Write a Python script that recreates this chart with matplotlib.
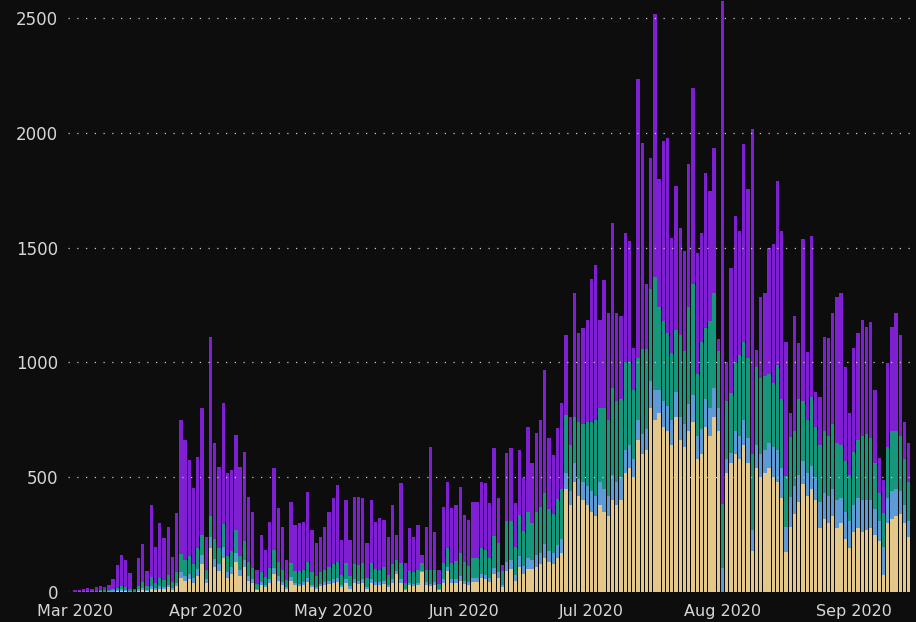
import numpy as np
import pandas as pd
import matplotlib
matplotlib.use("Agg")
import matplotlib.pyplot as plt
import matplotlib.dates as mdates

# Daily totals, 1 Mar 2020 onwards
total = [
    8, 10, 12, 18, 15, 20, 25, 22, 30, 55,
    117, 160, 139, 83, 15, 150, 210, 90, 378, 196,
    300, 235, 283, 152, 343, 748, 661, 574, 452, 587,
    800, 239, 1110, 648, 543, 822, 517, 530, 683, 543,
    609, 413, 348, 96, 248, 183, 304, 539, 365, 283,
    139, 391, 291, 300, 304, 435, 270, 213, 239, 283,
    348, 409, 465, 226, 400, 226, 413, 413, 409, 213,
    400, 304, 322, 313, 239, 378, 248, 474, 126, 278,
    239, 291, 161, 283, 630, 261, 96, 370, 478, 365,
    378, 457, 335, 313, 391, 391, 478, 474, 387, 626,
    409, 117, 604, 626, 387, 617, 496, 717, 561, 691,
    748, 965, 670, 596, 713, 822, 1117, 761, 1300, 1126,
    1148, 1183, 1365, 1422, 1183, 1357, 1213, 1609, 1213, 1204,
    1565, 1530, 1061, 2235, 1957, 1343, 1891, 2517, 1800, 1965,
    1978, 1543, 1770, 1587, 1487, 1865, 2196, 1478, 1565, 1826,
    1748, 1935, 1100, 2575, 1000, 1413, 1639, 1574, 1952, 1757,
    2017, 1052, 1283, 1300, 1500, 1517, 1791, 1574, 1087, 778,
    1204, 1083, 1539, 1043, 1552, 870, 848, 1109, 1104, 1213,
    1283, 1300, 978, 778, 1061, 1126, 1183, 1152, 1174, 878,
    583, 487, 996, 1152, 1213, 1117, 739, 648,
]

# bottom layer
tan = [
    0, 0, 0, 0, 0, 0, 0, 0, 0, 2,
    3, 5, 4, 2, 0, 6, 10, 5, 15, 8,
    15, 12, 20, 10, 25, 60, 50, 55, 40, 70,
    120, 40, 190, 110, 90, 150, 60, 80, 130, 70,
    110, 50, 40, 10, 30, 20, 40, 80, 50, 30,
    15, 50, 30, 25, 30, 45, 20, 15, 25, 30,
    35, 40, 45, 20, 40, 15, 40, 35, 40, 15,
    40, 30, 30, 35, 20, 40, 80, 40, 10, 30,
    25, 30, 85, 30, 25, 30, 10, 40, 90, 40,
    40, 50, 35, 30, 45, 45, 60, 55, 45, 80,
    60, 20, 90, 100, 50, 110, 80, 100, 100, 110,
    120, 150, 130, 120, 150, 170, 450, 380, 480, 420,
    400, 380, 350, 330, 380, 350, 330, 400, 380, 400,
    520, 540, 500, 660, 600, 620, 800, 750, 780, 720,
    700, 640, 760, 660, 630, 700, 740, 580, 600, 720,
    680, 760, 700, 0, 520, 560, 600, 580, 640, 560,
    180, 540, 500, 520, 540, 500, 480, 410, 175, 285,
    340, 390, 470, 420, 450, 400, 280, 320, 300, 330,
    280, 300, 230, 190, 260, 280, 260, 270, 280, 250,
    220, 75, 300, 320, 330, 340, 300, 240,
]

blue = [
    0, 0, 0, 2, 0, 2, 3, 2, 3, 5,
    4, 6, 5, 3, 2, 6, 8, 5, 12, 8,
    10, 10, 12, 8, 15, 25, 20, 25, 20, 30,
    40, 15, 50, 35, 30, 45, 25, 30, 40, 25,
    30, 20, 15, 5, 15, 10, 15, 25, 20, 15,
    8, 15, 10, 10, 12, 15, 10, 8, 10, 12,
    12, 15, 15, 10, 15, 10, 15, 12, 15, 8,
    15, 12, 12, 12, 10, 15, 10, 15, 5, 10,
    10, 10, 8, 12, 10, 12, 5, 15, 20, 15,
    15, 20, 15, 12, 15, 15, 20, 20, 15, 25,
    25, 10, 40, 40, 25, 45, 35, 50, 40, 50,
    50, 60, 50, 50, 55, 60, 70, 60, 80, 70,
    80, 80, 90, 90, 100, 100, 90, 110, 100, 100,
    100, 100, 80, 90, 90, 90, 120, 130, 100, 110,
    110, 110, 110, 100, 100, 120, 120, 100, 110, 120,
    120, 130, 100, 105, 60, 45, 100, 100, 110, 110,
    90, 100, 100, 100, 110, 130, 140, 130, 110, 130,
    120, 120, 100, 100, 100, 100, 110, 110, 120, 120,
    120, 110, 120, 120, 120, 130, 140, 130, 120, 110,
    90, 120, 110, 120, 120, 100, 80, 70,
]

green = [
    2, 3, 3, 4, 3, 4, 5, 5, 6, 8,
    10, 15, 12, 10, 5, 15, 25, 15, 40, 25,
    35, 30, 40, 25, 45, 80, 70, 75, 60, 90,
    90, 40, 90, 85, 70, 100, 70, 70, 100, 60,
    80, 60, 50, 20, 40, 35, 50, 80, 60, 50,
    30, 60, 50, 55, 55, 70, 55, 45, 50, 55,
    60, 65, 70, 45, 70, 45, 65, 70, 70, 40,
    70, 60, 55, 60, 45, 65, 50, 70, 25, 50,
    50, 55, 35, 55, 60, 55, 20, 70, 80, 70,
    80, 100, 80, 70, 90, 90, 110, 110, 90, 140,
    130, 60, 180, 170, 120, 180, 150, 200, 160, 190,
    200, 220, 180, 170, 200, 220, 250, 200, 200, 250,
    250, 280, 300, 330, 320, 350, 330, 380, 350, 340,
    380, 360, 300, 270, 370, 350, 400, 490, 360, 350,
    320, 290, 270, 360, 320, 420, 480, 270, 380, 310,
    380, 410, 250, 280, 250, 260, 300, 350, 340, 350,
    330, 340, 330, 320, 300, 280, 370, 300, 220, 260,
    240, 330, 260, 230, 300, 220, 250, 270, 260, 280,
    250, 230, 220, 200, 230, 250, 280, 290, 270, 200,
    120, 150, 220, 260, 250, 240, 200, 170,
]

layer_colors = ["#e3c78b", "#5c9bd6", "#16967a", "#7f1fd2"]
bg = "#0d0d0d"

days = pd.date_range("2020-03-01", periods=len(total), freq="D")
tan = np.array(tan)
blue = np.array(blue)
green = np.array(green)
purple = np.array(total) - tan - blue - green

fig = plt.figure(figsize=(9.16, 6.22), dpi=100, facecolor=bg)
ax = fig.add_axes([68 / 916, 30 / 622, 848 / 916, 592 / 622])
ax.set_facecolor(bg)

bottom = np.zeros(len(days))
for vals, col in zip([tan, blue, green, purple], layer_colors):
    ax.bar(days, vals, bottom=bottom, width=0.78, color=col, linewidth=0)
    bottom = bottom + vals

ax.set_ylim(0, 2578)
ax.set_xlim(days[0] - pd.Timedelta(hours=40), days[0] + pd.Timedelta(days=198.7))
ax.set_yticks([0, 500, 1000, 1500, 2000, 2500])
ax.xaxis.set_major_locator(mdates.MonthLocator())
ax.xaxis.set_major_formatter(mdates.DateFormatter("%b %Y"))

ax.set_axisbelow(False)
ax.yaxis.grid(True, linestyle=(0, (1, 6)), color="#c8c8c8", linewidth=0.9)
ax.xaxis.grid(False)

for s in ax.spines.values():
    s.set_visible(False)
ax.tick_params(axis="both", length=0, labelcolor="#d6d6d6")
ax.tick_params(axis="y", pad=7, labelsize=12)
ax.tick_params(axis="x", pad=8.5, labelsize=11.5)

fig.savefig("out.png", dpi=100, facecolor=bg)
